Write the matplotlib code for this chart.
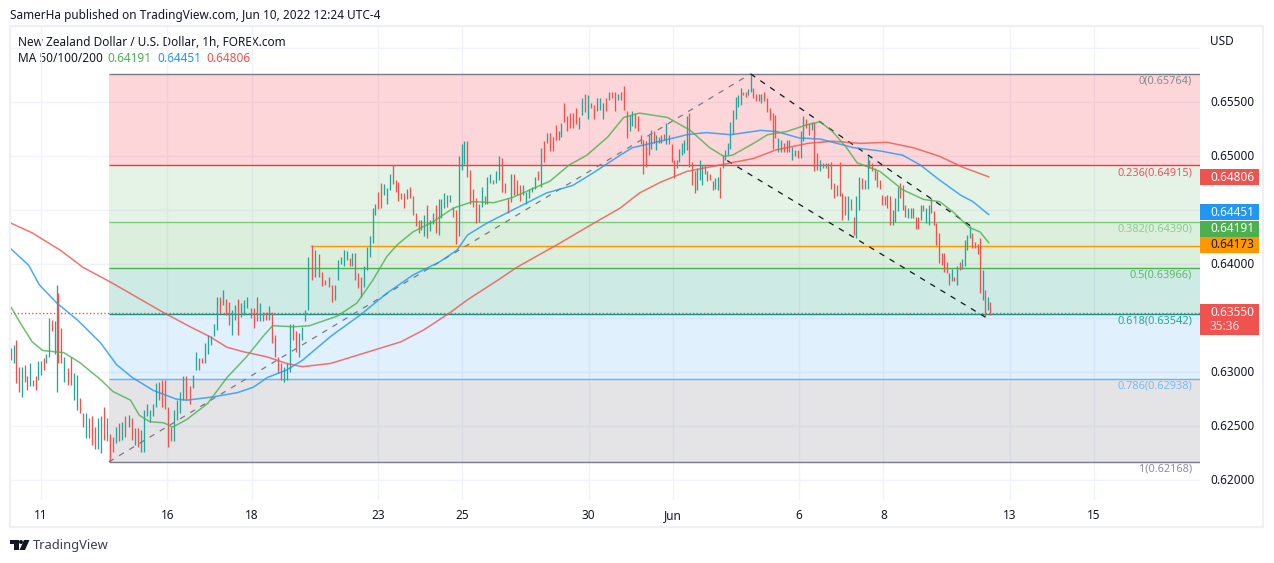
import numpy as np
import matplotlib
matplotlib.use("Agg")
import matplotlib.pyplot as plt
from matplotlib.patches import Rectangle, Polygon, Circle

plt.rcParams['font.family'] = ['Noto Sans', 'DejaVu Sans']

W, H = 1274, 563
# ---------- data (prices in 1e-4 USD unless stated; hours = trading hours since the 11th)
day_labels = ['11', '16', '18', '23', '25', '30', 'Jun', '6', '8', '13', '15']
day_hours = [0, 72, 120, 192, 240, 312, 360, 432, 480, 552, 600]
price_ticks = [0.620, 0.625, 0.630, 0.635, 0.640, 0.645, 0.650, 0.655, 0.660]
price_labels_shown = [0.620, 0.625, 0.630, 0.640, 0.650, 0.655]

fib_ratio = ['0', '0.236', '0.382', '0.5', '0.618', '0.786', '1']
fib_price = [0.65764, 0.64915, 0.64390, 0.63966, 0.63542, 0.62938, 0.62168]
fib_line_colour = ['#787b86', '#f23645', '#81c784', '#4caf50', '#089981', '#64b5f6', '#787b86']

ma_last = [0.64191, 0.64451, 0.64806]
orange_level = 0.64173
last_price = 0.63550

high_a = [6322,6325,6330,6305,6305,6307,6296,6308,6293,6296,6310,6310,6313,6317,6350,6348,6347,6381,
 6373,6341,6314,6304,6314,6299,6297,6276,6262,6262,6257,6259,6249,6257,6259,6268,6257,6243,6240,6249,6253,6254,6259,6260,6257,6248,6248,6246,6265,6270,6265,6270,6290,6291,6293,6293,6268,6249,6265,6274,6282,6296,6296,6287,6297,6319,6313,6313,6327,6334,6333,6345,6370,6370,6376,6368,6365,6358,6362,6368,6364,6367,6370,6359,6359,6370,6364,6356,6356,6361,6356,6334,6314,6308,6305,6308,6345,6345,6338,6336,6342,6358,6407,
 6418,6413,6409,6393,6385,6388]
low_a = [6311,6308,6290,6282,6277,6291,6283,6287,6287,6283,6293,6297,6302,6308,6314,6338,6317,6282,
 6308,6308,6291,6288,6288,6274,6265,6262,6249,6239,6239,6232,6229,6229,6225,6237,6236,6217,6226,6234,6236,6237,6240,6249,6237,6232,6231,6226,6226,6259,6254,6259,6268,6274,6268,6266,6231,6236,6236,6256,6262,6274,6274,6270,6285,6302,6302,6308,6308,6317,6325,6333,6339,6355,6362,6353,6344,6334,6348,6334,6351,6353,6359,6350,6341,6347,6347,6347,6348,6348,6327,6314,6299,6293,6291,6293,6300,6330,6319,6314,6330,6347,6358,
 6385,6388,6388,6380,6381,6379]
dir_a = ("RTRRTRRTRRTTRTTRTT"
 "RRTRRTTRRTRRRTTRTRRTRTRTRTRTTTTTTRRRRRTTTTRRTTRRTTTTTRTRRTTRTTTRRRTRRTRRRRTTTRRTTTT"
 "RTRRRR")

high_b = [6381,6381,6404,6407,6413,6412,6406,6410,6410,6392,6388,6398,6416,6426,6452,6456,6467,6475,6474,6471,6484,6492,6478,6476,6466,6466,6470,6472,6463,6447,6441,6441,6446,6455,6441,6447,6455,6460,6460,6466,6464,6464,6453,6450,6500,6511,6514,
 6514,6487,6470,6461,6456,6472,6463,6481,6484,6478,6486,6500,6498,6475,6461,6484,6484,6478,6473,6473,6467,6470,6472,6481,6486,6508,6514,6522,6522,6518,6529,6523,6531,6549,6537,6540,6540,6545,6536,6554,6558,6557,6549,6548,6554,6554,6549,6554,6560,6560,6560,6558,6560,6565,6542,6538,6542,6540,6537]
low_b = [6365,6367,6385,6400,6398,6404,6398,6398,6385,6378,6370,6379,6395,6407,6420,6446,6451,6452,6464,6456,6469,6474,6467,6459,6460,6452,6460,6461,6446,6435,6429,6432,6426,6424,6431,6437,6429,6427,6443,6452,6453,6458,6444,6419,6426,6487,6493,
 6481,6456,6453,6438,6439,6453,6456,6456,6475,6474,6475,6478,6467,6466,6447,6458,6464,6464,6459,6464,6456,6461,6467,6470,6478,6472,6495,6512,6505,6505,6515,6515,6518,6532,6523,6526,6526,6530,6525,6538,6541,6535,6545,6535,6542,6543,6535,6542,6552,6554,6542,6552,6552,6543,6517,6523,6528,6526,6523]
dir_b = ("RTTTTTRTRRRTTTTTRRTTTRRRRRTRRRRRTRTTRTTTRTRRTTT"
 "RRRRTTRTTRTTRRRTRRRTTTTTRTRTRRRTTRRRRRTTRTRRTTTRTRRTRRRTTRR")

high_c = [6520,6515,6514,6520,6524,6523,6520,6518,6520,6521,6531,6520,6511,6497,6497,6507,6512,6515,6537,6540,6495,6486,6489,6497,6492,6492,6486,6484,6477,6480,6481,6490,6501,6506,6512,6532,6543,6555,6557,6563,6560,6560,6562,6575,
 6563,6558,6558,6558,6560,6554,6545,6540,6538,6517,6515,6512,6515,6515,6509,6506,6506,6523,6537,6535,6531,6532,6532,6503,6497,6494,6494,6494,6495,6475,6473,6495,6466,6463,6463,6460,6444,6463,6481,6480,6478,6500,
 6497,6494,6489,6486,6478,6464,6463,6464,6463,6450,6461,6472,6475,6473,6455,6452,6452,6452,6444,6444,6455,6455,6452,6455,6461,6449,6438,6429,6410,6410,6402,6392,6396,6388,6398,6402,6405,6422,6427,6435,6429,6421,6419,6424,6395,6376,6370,6365]
low_c = [6511,6484,6490,6501,6507,6512,6506,6512,6512,6515,6511,6511,6495,6480,6489,6495,6501,6503,6506,6490,6473,6466,6469,6478,6473,6484,6477,6478,6469,6470,6469,6461,6489,6497,6501,6507,6521,6535,6546,6548,6557,6555,6557,6560,
 6554,6551,6551,6549,6551,6541,6534,6507,6517,6504,6504,6504,6504,6504,6497,6500,6498,6498,6514,6526,6520,6524,6486,6487,6486,6489,6489,6480,6470,6461,6463,6463,6441,6446,6441,6450,6427,6424,6450,6470,6470,6470,
 6489,6486,6478,6472,6470,6455,6455,6452,6436,6436,6439,6449,6461,6450,6444,6443,6443,6443,6433,6433,6441,6449,6438,6436,6447,6436,6418,6401,6399,6393,6392,6381,6384,6384,6381,6395,6396,6398,6413,6424,6415,6415,6409,6373,6367,6351,6358,6353]
dir_c = ("RRRTTRTRTRTRRRTTTTTRRRTTTRRRRTTRTTTTTTTTRRTT"
 "RRTTRRRRRTTRTRTTRTTRRTRRTRTRRRTRRRTRRTTRTT"
 "RRRRRRRRRTTTRRRTRTRRTRTTRRRRRRRRTRTRTTTTRRRRTRTR")

ma200_hour = [-17,-5,11,24,39,55,70,85,96,106,115,129,140,149,165,187,205,218,233,243,262,271,294,315,330,341,353,368,387,406,419,437,451,467,482,497,512,525,540]
ma200_pips = [6438,6429,6413,6397,6384,6369,6355,6342,6333,6323,6319,6314,6308,6305,6308,6319,6328,6339,6355,6367,6387,6397,6418,6438,6452,6466,6476,6486,6492,6498,6506,6512,6514,6512,6513,6508,6500,6490,6481]
ma100_hour = [-17,-7,-1,9,21,34,43,52,64,77,83,98,112,121,129,140,149,157,165,170,182,197,212,227,237,243,254,266,277,288,303,315,330,337,353,368,379,393,410,419,432,444,463,478,491,501,512,524,531,540]
ma100_pips = [6414,6399,6381,6364,6348,6327,6307,6295,6283,6275,6274,6277,6281,6286,6295,6302,6311,6322,6333,6339,6353,6373,6390,6402,6413,6427,6438,6448,6457,6466,6473,6485,6501,6508,6514,6520,6522,6520,6524,6523,6517,6516,6508,6505,6501,6492,6478,6464,6458,6446]
ma50_hour = [-17,-12,-5,1,13,22,34,41,51,56,62,70,75,83,95,106,117,127,132,144,153,169,180,189,197,203,212,223,235,246,258,269,283,290,301,311,323,332,341,357,370,381,389,394,406,414,425,436,444,451,459,465,478,491,503,512,520,529,535,540]
ma50_pips = [6360,6346,6328,6320,6318,6309,6293,6282,6274,6260,6254,6253,6249,6256,6271,6295,6314,6334,6343,6342,6343,6352,6364,6385,6407,6418,6430,6439,6452,6458,6457,6462,6472,6477,6492,6501,6518,6536,6540,6536,6524,6508,6500,6501,6512,6520,6523,6529,6532,6523,6508,6494,6486,6469,6460,6458,6448,6434,6430,6420]

# (first hour, last hour, number of bars read) for each stretch of the candles
stretches = [(-17.1, 9.3, 18), (9.9, 152.4, 83), (154.5, 164.0, 6),
             (166.0, 241.3, 47), (242.6, 340.4, 59),
             (341.8, 404.5, 44), (405.7, 471.0, 42), (472.0, 541.0, 48)]

fib_start_hour = 38.7
fib_peak_hour = 404.3
orange_start_hour = 154
channel_upper_hour = [404.3, 531]
channel_upper_price = [0.65764, 0.6434]
channel_lower_hour = [391, 538]
channel_lower_price = [0.6496, 0.6351]

# ---------- layout
fig = plt.figure(figsize=(W / 100, H / 100), dpi=100, facecolor='white')
def rect(l, t, r, b):
    return [l / W, 1 - b / H, (r - l) / W, (b - t) / H]

chrome = fig.add_axes([0, 0, 1, 1], zorder=0)
chrome.set_xlim(0, W); chrome.set_ylim(H, 0); chrome.axis('off')
FRAME = '#eef0f4'
chrome.add_patch(Rectangle((10, 26), 1253, 501, fill=False, ec=FRAME, lw=1.6))

INK = '#131722'
chrome.text(10, 15, 'SamerHa published on TradingView.com, Jun 10, 2022 12:24 UTC-4',
            fontsize=8.5, color=INK, va='center', ha='left')
chrome.text(18, 42, 'New Zealand Dollar / U.S. Dollar, 1h, FOREX.com', fontsize=8.5, color=INK, va='center')
ma_txt = chrome.text(18, 59, 'MA 50/100/200', fontsize=8.5, color=INK, va='center')
for xp, val, col in zip([107, 157, 206], ma_last, ['#4caf50', '#2196f3', '#ef5350']):
    chrome.text(xp, 59, f'{val:.5f}', fontsize=8.5, color=col, va='center')

# logo
chrome.add_patch(Polygon([(10, 540), (18.5, 540), (18.5, 550), (14, 550), (14, 544), (10, 544)], fc=INK, ec='none'))
chrome.add_patch(Circle((21, 542), 2, fc=INK, ec='none'))
chrome.add_patch(Polygon([(24, 540), (29.5, 540), (25, 550), (19.5, 550)], fc=INK, ec='none'))
chrome.text(33, 545.5, 'TradingView', fontsize=9.3, color='#3a3e4a', va='center')

PX_PER_HOUR = 1.755
x_left = (10 - 41) / PX_PER_HOUR
x_right = (1200 - 41) / PX_PER_HOUR
y_low = 0.62 + (480 - 500) / 10790
y_high = 0.62 + (480 - 27) / 10790

ax = fig.add_axes(rect(11, 27, 1200, 500), zorder=1)
ax.set_xlim((11 - 41) / PX_PER_HOUR, x_right)
ax.set_ylim(y_low, y_high)
ax.patch.set_alpha(0)
for s in ax.spines.values():
    s.set_visible(False)

GRID = '#f0f3fa'
ax.set_axisbelow(True)
ax.set_yticks(price_ticks)
ax.set_yticklabels([])
ax.tick_params(axis='y', length=0)
ax.set_xticks(day_hours)
ax.set_xticklabels(day_labels, fontsize=8.5, color=INK)
ax.tick_params(axis='x', length=0, pad=6.5)
ax.grid(True, color=GRID, lw=1)
for lab in ax.get_xticklabels():
    if lab.get_text() == 'Jun':
        lab.set_fontweight('bold')

# fib bands and lines
fib_band = ['#f23645', '#81c784', '#4caf50', '#089981', '#64b5f6', '#787b86']
for i, col in enumerate(fib_band):
    ax.fill_between([fib_start_hour, x_right], fib_price[i], fib_price[i + 1],
                    color=col, alpha=0.2, lw=0, zorder=1)
for ratio, p, col in zip(fib_ratio, fib_price, fib_line_colour):
    ax.plot([fib_start_hour, x_right], [p, p], color=col, lw=1.0, zorder=2.2, solid_capstyle='butt')
    ax.annotate(f'{ratio}({p:.5f})', (x_right, p), xytext=(-8 * 0.72, -7.2 * 0.72),
                textcoords='offset points', ha='right', va='center', fontsize=7.9,
                color=col, alpha=0.85, zorder=6)
ax.plot([orange_start_hour, x_right], [orange_level] * 2, color='#ff9800', lw=1.0, zorder=2.3)
ax.plot([x_left, x_right], [last_price] * 2, color='#ef5350', lw=1.0, ls=(0, (1, 1.6)), zorder=2.4)

# candles
hours = np.concatenate([np.linspace(a, b, n) for a, b, n in stretches])
highs = np.array(high_a + high_b + high_c) / 1e4
lows = np.array(low_a + low_b + low_c) / 1e4
dirs = dir_a + dir_b + dir_c
assert len(highs) == len(lows) == len(dirs) == len(hours), (len(highs), len(lows), len(dirs), len(hours))
bar_cols = ['#26a69a' if d == 'T' else '#ef5350' for d in dirs]
ax.vlines(hours, lows, highs, colors=bar_cols, lw=0.95, zorder=3)

# trend lines
ax.plot([fib_start_hour, fib_peak_hour], [fib_price[6], fib_price[0]], color='#787b86', lw=0.9,
        ls=(0, (4.5, 5)), zorder=4)
ax.plot(channel_upper_hour, channel_upper_price, color='#131722', lw=0.9, ls=(0, (4.5, 5)), zorder=4)
ax.plot(channel_lower_hour, channel_lower_price, color='#131722', lw=0.9, ls=(0, (4.5, 5)), zorder=4)

# moving averages
ax.plot(ma200_hour, np.array(ma200_pips) / 1e4, color='#ef5350', lw=1.1, alpha=0.8, zorder=5)
ax.plot(ma100_hour, np.array(ma100_pips) / 1e4, color='#2196f3', lw=1.1, alpha=0.8, zorder=5)
ax.plot(ma50_hour, np.array(ma50_pips) / 1e4, color='#4caf50', lw=1.1, alpha=0.8, zorder=5)

# price scale
sc = fig.add_axes(rect(1200, 27, 1262, 500), zorder=2)
sc.set_xlim(0, 1); sc.set_ylim(y_low, y_high); sc.axis('off')
for p in price_labels_shown:
    sc.text(0.16, p, f'{p:.5f}', fontsize=8.5, color=INK, va='center', ha='left')
sc.text(0.16, 0.62 + (480 - 41) / 10790, 'USD', fontsize=8.5, color=INK, va='center', ha='left')

ppx = 1 / 10790
box_rows = [(ma_last[2], 177, '#ef5350', 'white'), (ma_last[1], 212, '#2196f3', 'white'),
            (ma_last[0], 229, '#4caf50', 'white'), (orange_level, 245, '#ff9800', INK)]
for val, yc, bg, fg in box_rows:
    yy = 0.62 + (480 - yc) * ppx
    sc.add_patch(Rectangle((0, yy - 8 * ppx), 0.95, 16 * ppx, fc=bg, ec='none', clip_on=False))
    sc.text(0.16, yy, f'{val:.5f}', fontsize=8.5, color=fg, va='center', ha='left',
            fontweight='bold' if fg == 'white' else 'normal')
yy = 0.62 + (480 - 319.5) * ppx
sc.add_patch(Rectangle((0, yy - 15.5 * ppx), 0.95, 31 * ppx, fc='#ef5350', ec='none', clip_on=False))
sc.text(0.16, 0.62 + (480 - 312) * ppx, f'{last_price:.5f}', fontsize=8.5, color='white',
        va='center', ha='left', fontweight='bold')
sc.text(0.16, 0.62 + (480 - 327) * ppx, '35:36', fontsize=8.5, color='#fde0e0', va='center', ha='left')

fig.savefig('out.png', dpi=100)
